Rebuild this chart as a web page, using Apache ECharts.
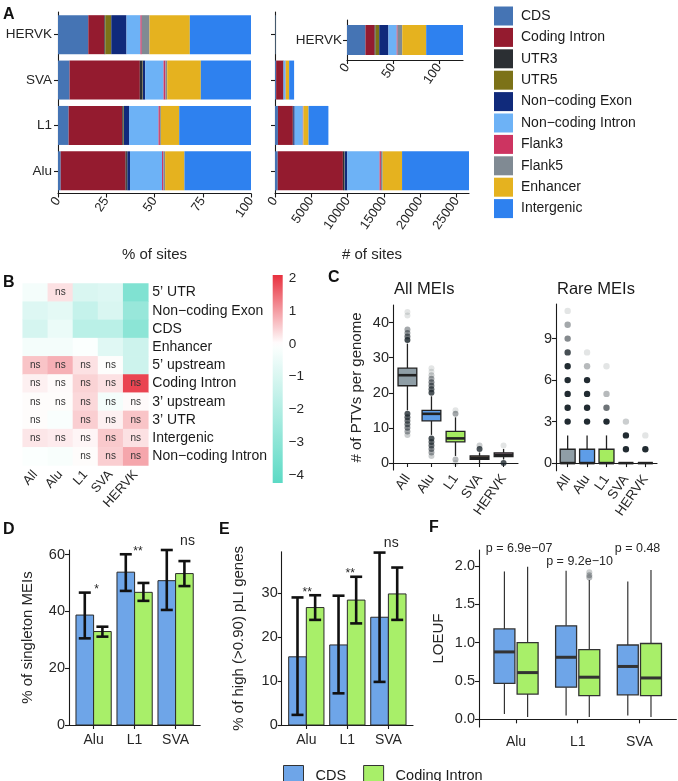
<!DOCTYPE html>
<html><head><meta charset="utf-8">
<script src="https://cdn.jsdelivr.net/npm/echarts@6/dist/echarts.min.js"></script>
<style>html,body{margin:0;padding:0;background:#fff}#c{width:678px;height:781px}</style>
</head><body><div id="c"></div>
<script>
// ================= DATA =================
// Panel A
const aCats = ['Alu', 'L1', 'SVA', 'HERVK'];
const regions = ['CDS', 'Coding Intron', 'UTR3', 'UTR5', 'Non\u2212coding Exon', 'Non\u2212coding Intron', 'Flank3', 'Flank5', 'Enhancer', 'Intergenic'];
const pctAlu   = [1.4, 33.6, 0.7, 0.2, 1.4, 16.6, 0.7, 0.9, 10.0, 34.5];
const pctL1    = [5.5, 27.8, 0.7, 0.2, 2.6, 15.3, 0.7, 0.5, 9.5, 37.2];
const pctSVA   = [6.0, 36.4, 1.4, 0.2, 1.2, 9.5, 1.0, 0.9, 17.4, 26.0];
const pctHERVK = [15.7, 8.3, 0.5, 3.1, 7.9, 7.2, 0.7, 4.0, 20.9, 31.7];
const cntAlu   = [374, 8971, 187, 53, 374, 4432, 187, 240, 2670, 9212];
const cntL1    = [404, 2043, 51, 15, 191, 1125, 51, 37, 698, 2735];
const cntSVA   = [158, 957, 37, 5, 32, 250, 26, 24, 458, 683];
const cntHERVK = [20, 10, 1, 4, 10, 9, 1, 5, 26, 40];
const pctTicks = [0, 25, 50, 75, 100];
const cntTicks = [0, 5000, 10000, 15000, 20000, 25000];
const insetTicks = [0, 50, 100];

// Panel B
const hmCols = ['All', 'Alu', 'L1', 'SVA', 'HERVK'];
const hmRows = ['5\u2019 UTR', 'Non\u2212coding Exon', 'CDS', 'Enhancer', '5\u2019 upstream', 'Coding Intron', '3\u2019 upstream', '3\u2019 UTR', 'Intergenic', 'Non\u2212coding Intron'];
const hmAll   = [-0.3, -0.9, -1.1, -0.3, 0.6, 0.15, 0.02, 0.02, 0.25, -0.1];
const hmAlu   = [0.3, -0.7, -0.5, -0.3, 0.8, 0.05, 0.02, -0.15, 0.2, -0.2];
const hmL1    = [-1.0, -1.5, -1.8, -0.1, 0.3, 0.45, 0.4, 0.5, 0.1, 0.02];
const hmSVA   = [-0.9, -1.0, -1.8, -0.8, 0.0, 0.3, -0.3, 0.15, 0.55, 0.5];
const hmHERVK = [-3.3, -2.7, -3.0, -1.3, -1.3, 1.9, 0.05, 0.6, 0.3, 0.9];
const nsAll   = [0, 0, 0, 0, 1, 1, 1, 1, 1, 0];
const nsAlu   = [1, 0, 0, 0, 1, 1, 1, 0, 1, 0];
const nsL1    = [0, 0, 0, 0, 1, 1, 1, 1, 1, 1];
const nsSVA   = [0, 0, 0, 0, 1, 1, 1, 1, 1, 1];
const nsHERVK = [0, 0, 0, 0, 0, 1, 1, 1, 1, 1];
const cbTicks = [2, 1, 0, -1, -2, -3, -4];

// Panel C  (box: [lowWhisker, Q1, median, Q3, highWhisker]; outliers: [category#, value, overlap count])
const cCats = ['All', 'Alu', 'L1', 'SVA', 'HERVK'];
const allMeiBox = [[15, 22, 25, 27, 34], [8, 12, 14, 15, 19], [2, 6, 7, 9, 13], [0, 1, 1.5, 2, 3], [1, 1.8, 2.3, 2.9, 4]];
const allMeiOut = [[1,35,14],[1,36,8],[1,37,5],[1,38,4],[1,42,1],[1,43,1],[1,14,12],[1,13,10],[1,12,8],[1,11,7],[1,10,6],[1,9,4],[1,8,2],
  [2,20,12],[2,21,9],[2,22,7],[2,23,6],[2,24,4],[2,25,2],[2,26,1],[2,27,1],[2,7,12],[2,6,9],[2,5,8],[2,4,6],[2,3,4],[2,2,2],
  [3,14,4],[3,15,1],[3,1,3],[3,0,1],[4,4,12],[4,5,2],[5,5,1],[5,0,12]];
const allMeiTicks = [0, 10, 20, 30, 40];
const rareMeiBox = [[0, 0, 0, 1, 2], [0, 0, 0, 1, 2], [0, 0, 0, 1, 2], [0, 0, 0, 0, 0], [0, 0, 0, 0, 0]];
const rareMeiOut = [[1,3,30],[1,4,30],[1,5,30],[1,6,30],[1,7,30],[1,8,13],[1,9,6],[1,10,4],[1,11,1],
  [2,3,30],[2,4,30],[2,5,30],[2,6,30],[2,7,3],[2,8,1],[3,3,30],[3,4,8],[3,5,3],[3,7,1],[4,1,30],[4,2,30],[4,3,2],[5,1,30],[5,2,1]];
const rareMeiTicks = [0, 3, 6, 9];

// Panels D, E, F
const grpCats = ['Alu', 'L1', 'SVA'];
const dCDS = [38.7, 53.8, 50.8], dCI = [32.9, 46.7, 53.3];
const dCDSlo = [30.5, 47.2, 40.5], dCDShi = [46.6, 60.1, 61.6];
const dCIlo = [31.1, 43.7, 48.9], dCIhi = [34.6, 50.0, 57.7];
const dSig = ['*', '**', 'ns'], dSigX = [1.07, 2.08, 3.29];
const dTicks = [0, 20, 40, 60];
const eCDS = [15.5, 18.2, 24.5], eCI = [26.7, 28.4, 29.8];
const eCDSlo = [2.3, 7.2, 9.8], eCDShi = [29.0, 29.4, 39.2];
const eCIlo = [23.9, 23.1, 23.9], eCIhi = [29.5, 33.7, 35.8];
const eSig = ['**', '**', 'ns'], eSigX = [1.02, 2.07, 3.07];
const eTicks = [0, 10, 20, 30];
const fCDS = [[0.07, 0.47, 0.88, 1.18, 1.93], [0.05, 0.42, 0.81, 1.22, 1.94], [0.05, 0.32, 0.69, 0.97, 1.80]];
const fCI  = [[0.03, 0.33, 0.61, 1.00, 1.99], [0.03, 0.31, 0.55, 0.91, 1.82], [0.03, 0.31, 0.54, 0.99, 1.95]];
const fCIout = [[2, 1.85, 3], [2, 1.88, 3], [2, 1.92, 2]];
const fP = ['p = 6.9e\u221207', 'p = 9.2e\u221210', 'p = 0.48'];
const fPX = [1.05, 2.03, 2.97], fPY = [2.23, 2.06, 2.23];
const fTicks = [0, 0.5, 1, 1.5, 2];

// ================= STYLE =================
const FONT = '"Liberation Sans", Arial, sans-serif';
const AX = '#1a1a1a', TXT = '#262626';
const regionColors = ['#4574b4', '#941b2f', '#2b2f33', '#7c7218', '#102a7b', '#6db2f6', '#cd3461', '#808a93', '#e5b21f', '#2e81ef'];
const cColors = ['#8f9ea6', '#5e9de8', '#a5ec60', '#c6a787', '#c89cb4'];
const CDS_C = '#6ea5e8', CI_C = '#a8ef69';

const aLine = { show: true, lineStyle: { color: AX, width: 1.1 } };
const aTick = (v) => ({ show: true, length: 4, lineStyle: { color: AX, width: 1.1 }, customValues: v });
const aTickCat = { show: true, length: 4, alignWithLabel: true, lineStyle: { color: AX, width: 1.1 } };
const lbl = (o) => Object.assign({ color: TXT, fontFamily: FONT, fontSize: 14, hideOverlap: false }, o);
const nameStyle = { color: TXT, fontFamily: FONT, fontSize: 15 };
const noSplit = { show: false };
const plainFmt = (v) => String(v);

// heatmap colour scale
const TEAL = [92, 218, 197], RED = [232, 48, 62], WHITE = [255, 255, 255];
function mix(a, b, t) { return 'rgb(' + a.map((x, i) => Math.round(x + (b[i] - x) * t)).join(',') + ')'; }
function hmColor(v) { return v >= 0 ? mix(WHITE, RED, Math.min(1, v / 2.1)) : mix(WHITE, TEAL, Math.min(1, -v / 4.25)); }
const HM_MIN = -4.25, HM_MAX = 2.1;
const hmPalette = [];
for (let k = 0; k < 60; k++) hmPalette.push(hmColor(HM_MIN + (HM_MAX - HM_MIN) * k / 59));

// ================= RENDERERS =================
function boxItem(fills, widthFrac, offFrac, st) {
  return function (params, api) {
    const x = api.value(0), unit = api.size([1, 0])[0];
    const cx = api.coord([x, 0])[0] + offFrac * unit, hw = widthFrac * unit / 2;
    const y = (k) => api.coord([x, api.value(k)])[1];
    const lo = y(1), q1 = y(2), md = y(3), q3 = y(4), hi = y(5);
    const fill = Array.isArray(fills) ? fills[params.dataIndex] : fills;
    return { type: 'group', children: [
      { type: 'line', shape: { x1: cx, y1: hi, x2: cx, y2: q3 }, style: { stroke: st.wc, lineWidth: st.ww } },
      { type: 'line', shape: { x1: cx, y1: q1, x2: cx, y2: lo }, style: { stroke: st.wc, lineWidth: st.ww } },
      { type: 'rect', shape: { x: cx - hw, y: q3, width: 2 * hw, height: q1 - q3 }, style: { fill: fill, stroke: st.bc, lineWidth: st.bw } },
      { type: 'line', shape: { x1: cx - hw, y1: md, x2: cx + hw, y2: md }, style: { stroke: st.bc, lineWidth: st.mw } }
    ] };
  };
}
function dotItem(offFrac, r) {
  return function (params, api) {
    const x = api.value(0), unit = api.size([1, 0])[0];
    const p = api.coord([x, api.value(1)]);
    const a = 1 - Math.pow(0.88, api.value(2));
    return { type: 'circle', shape: { cx: p[0] + offFrac * unit, cy: p[1], r: r }, style: { fill: 'rgba(28,38,44,' + a.toFixed(3) + ')' } };
  };
}
function barItem(fill, offFrac, wFrac) {
  return function (params, api) {
    const x = api.value(0), unit = api.size([1, 0])[0];
    const p0 = api.coord([x, 0]), p1 = api.coord([x, api.value(1)]);
    const w = wFrac * unit, cx = p0[0] + offFrac * unit;
    return { type: 'rect', shape: { x: cx - w / 2, y: p1[1], width: w, height: p0[1] - p1[1] }, style: { fill: fill, stroke: '#2a2a2a', lineWidth: 1 } };
  };
}
function errItem(offFrac, cap) {
  return function (params, api) {
    const x = api.value(0), unit = api.size([1, 0])[0];
    const lo = api.coord([x, api.value(1)]), hi = api.coord([x, api.value(2)]);
    const cx = lo[0] + offFrac * unit, st = { stroke: '#111', lineWidth: 2.6 };
    return { type: 'group', children: [
      { type: 'line', shape: { x1: cx, y1: lo[1], x2: cx, y2: hi[1] }, style: st },
      { type: 'line', shape: { x1: cx - cap / 2, y1: lo[1], x2: cx + cap / 2, y2: lo[1] }, style: st },
      { type: 'line', shape: { x1: cx - cap / 2, y1: hi[1], x2: cx + cap / 2, y2: hi[1] }, style: st }
    ] };
  };
}
function textItem(labels, lift, sizeFn) {
  return function (params, api) {
    const t = labels[params.dataIndex];
    const p = api.coord([api.value(0), api.value(1)]);
    return { type: 'text', x: p[0], y: p[1] - lift(t), style: { text: t, textAlign: 'center', textVerticalAlign: 'middle', fontSize: sizeFn(t), fontFamily: FONT, fill: TXT } };
  };
}
const sigLift = (t) => (t === 'ns' ? 9 : 3);
const sigSize = (t) => (t === 'ns' ? 14 : 12);

// ================= AXES =================
const grids = [
  { left: 58, top: 12, width: 193, height: 181.5 },      // 0 A left
  { left: 275, top: 12, width: 194, height: 181.5 },     // 1 A right
  { left: 347, top: 20, width: 116, height: 40 },        // 2 inset
  { left: 22.7, top: 283.5, width: 125.6, height: 182 }, // 3 B heatmap
  { left: 272.7, top: 275, width: 10, height: 208 },     // 4 colour bar
  { left: 393, top: 305, width: 125, height: 165 },      // 5 C all
  { left: 556, top: 304, width: 101, height: 166.7 },    // 6 C rare
  { left: 69, top: 550, width: 131.2, height: 175 },     // 7 D
  { left: 281.7, top: 551.7, width: 131.3, height: 173.3 }, // 8 E
  { left: 479, top: 550, width: 197.4, height: 177 }     // 9 F
].map(g => Object.assign({ containLabel: false, outerBoundsMode: 'none' }, g));

const idx = (arr) => arr.map((_, i) => i + 1);
const catFmt = (names) => (v) => names[Math.round(v) - 1] || '';

const xAxis = [
  { gridIndex: 0, type: 'value', min: 0, max: 100, axisLine: aLine, axisTick: aTick(pctTicks), splitLine: noSplit,
    axisLabel: lbl({ customValues: pctTicks, formatter: plainFmt, rotate: 55, fontSize: 13, margin: 5 }),
    name: '% of sites', nameLocation: 'middle', nameGap: 54, nameTextStyle: nameStyle },
  { gridIndex: 1, type: 'value', min: 0, max: 26700, axisLine: aLine, axisTick: aTick(cntTicks), splitLine: noSplit,
    axisLabel: lbl({ customValues: cntTicks, formatter: plainFmt, rotate: 55, fontSize: 13, margin: 5 }),
    name: '# of sites', nameLocation: 'middle', nameGap: 54, nameTextStyle: nameStyle },
  { gridIndex: 2, type: 'value', min: 0, max: 126, axisLine: aLine, axisTick: aTick(insetTicks), splitLine: noSplit,
    axisLabel: lbl({ customValues: insetTicks, formatter: plainFmt, rotate: 55, fontSize: 13, margin: 5 }) },
  { gridIndex: 3, type: 'category', data: hmCols, axisLine: { show: false }, axisTick: { show: false },
    axisLabel: lbl({ rotate: 48, fontSize: 13, margin: 7, interval: 0 }) },
  { gridIndex: 4, type: 'value', min: 0, max: 1, show: false },
  { gridIndex: 5, type: 'value', min: 0.4, max: 5.6, axisLine: aLine, axisTick: aTick(idx(cCats)), splitLine: noSplit,
    axisLabel: lbl({ customValues: idx(cCats), formatter: catFmt(cCats), rotate: 55, fontSize: 13.5, margin: 6 }) },
  { gridIndex: 6, type: 'value', min: 0.4, max: 5.6, axisLine: aLine, axisTick: aTick(idx(cCats)), splitLine: noSplit,
    axisLabel: lbl({ customValues: idx(cCats), formatter: catFmt(cCats), rotate: 55, fontSize: 13.5, margin: 6 }) },
  { gridIndex: 7, type: 'value', min: 0.4, max: 3.6, axisLine: aLine, axisTick: aTick(idx(grpCats)), splitLine: noSplit,
    axisLabel: lbl({ customValues: idx(grpCats), formatter: catFmt(grpCats), margin: 8 }) },
  { gridIndex: 8, type: 'value', min: 0.4, max: 3.6, axisLine: aLine, axisTick: aTick(idx(grpCats)), splitLine: noSplit,
    axisLabel: lbl({ customValues: idx(grpCats), formatter: catFmt(grpCats), margin: 8 }) },
  { gridIndex: 9, type: 'value', min: 0.4, max: 3.6, axisLine: aLine, axisTick: aTick(idx(grpCats)), splitLine: noSplit,
    axisLabel: lbl({ customValues: idx(grpCats), formatter: catFmt(grpCats), margin: 8 }) }
];
const minusFmt = (d) => (v) => (v < 0 ? '\u2212' + Math.abs(v).toFixed(d) : v.toFixed(d));
const yAxis = [
  { gridIndex: 0, type: 'category', data: aCats, axisLine: aLine, axisTick: aTickCat, axisLabel: lbl({ fontSize: 13.5, margin: 6 }) },
  { gridIndex: 1, type: 'category', data: aCats, axisLine: aLine, axisTick: aTickCat, axisLabel: { show: false } },
  { gridIndex: 2, type: 'category', data: ['HERVK'], axisLine: aLine, axisTick: aTickCat, axisLabel: lbl({ fontSize: 13.5, margin: 5 }) },
  { gridIndex: 3, type: 'category', data: hmRows, inverse: true, position: 'right', axisLine: { show: false }, axisTick: { show: false },
    axisLabel: lbl({ fontSize: 14, margin: 4, interval: 0, color: '#1a1a1a' }) },
  { gridIndex: 4, type: 'value', min: HM_MIN, max: HM_MAX, position: 'right', axisLine: { show: false }, axisTick: { show: false }, splitLine: noSplit,
    axisLabel: lbl({ customValues: cbTicks, formatter: minusFmt(0), fontSize: 13.5, margin: 6 }) },
  { gridIndex: 5, type: 'value', min: -2, max: 45, axisLine: aLine, axisTick: aTick(allMeiTicks), splitLine: noSplit,
    axisLabel: lbl({ customValues: allMeiTicks, formatter: plainFmt, fontSize: 14.5, margin: 4 }),
    name: '# of PTVs per genome', nameLocation: 'middle', nameGap: 29, nameTextStyle: nameStyle },
  { gridIndex: 6, type: 'value', min: -0.55, max: 11.5, axisLine: aLine, axisTick: aTick(rareMeiTicks), splitLine: noSplit,
    axisLabel: lbl({ customValues: rareMeiTicks, formatter: plainFmt, fontSize: 14.5, margin: 4 }) },
  { gridIndex: 7, type: 'value', min: 0, max: 61.6, axisLine: aLine, axisTick: aTick(dTicks), splitLine: noSplit,
    axisLabel: lbl({ customValues: dTicks, formatter: plainFmt, fontSize: 14.5, margin: 4 }),
    name: '% of singleton MEIs', nameLocation: 'middle', nameGap: 34, nameTextStyle: nameStyle },
  { gridIndex: 8, type: 'value', min: 0, max: 39.4, axisLine: aLine, axisTick: aTick(eTicks), splitLine: noSplit,
    axisLabel: lbl({ customValues: eTicks, formatter: plainFmt, fontSize: 14.5, margin: 4 }),
    name: '% of high (>0.90) pLI genes', nameLocation: 'middle', nameGap: 35, nameTextStyle: nameStyle },
  { gridIndex: 9, type: 'value', min: -0.1, max: 2.21, axisLine: aLine, axisTick: aTick(fTicks), splitLine: noSplit,
    axisLabel: lbl({ customValues: fTicks, formatter: (v) => v.toFixed(1), fontSize: 14.5, margin: 4 }),
    name: 'LOEUF', nameLocation: 'middle', nameGap: 33, nameTextStyle: nameStyle }
];

// ================= SERIES =================
const series = [];
const common = { animation: false, silent: true };
regions.forEach((r, i) => {
  series.push(Object.assign({ type: 'bar', name: r, xAxisIndex: 0, yAxisIndex: 0, stack: 'pct', barWidth: 39,
    data: [pctAlu[i], pctL1[i], pctSVA[i], pctHERVK[i]], itemStyle: { color: regionColors[i] } }, common));
});
regions.forEach((r, i) => {
  series.push(Object.assign({ type: 'bar', name: r, xAxisIndex: 1, yAxisIndex: 1, stack: 'cnt', barWidth: 39,
    data: [cntAlu[i], cntL1[i], cntSVA[i], cntHERVK[i]], itemStyle: { color: regionColors[i] } }, common));
});
regions.forEach((r, i) => {
  series.push(Object.assign({ type: 'bar', name: r, xAxisIndex: 2, yAxisIndex: 2, stack: 'ins', barWidth: 30,
    data: [cntHERVK[i]], itemStyle: { color: regionColors[i] } }, common));
});

// B heatmap
const hmVals = [hmAll, hmAlu, hmL1, hmSVA, hmHERVK];
const hmNs = [nsAll, nsAlu, nsL1, nsSVA, nsHERVK];
const hmData = [];
hmVals.forEach((col, c) => col.forEach((v, r) => hmData.push([c, r, v, hmNs[c][r]])));
const HM_IDX = series.length;
series.push(Object.assign({ type: 'heatmap', xAxisIndex: 3, yAxisIndex: 3, data: hmData,
  label: { show: true, formatter: (p) => (p.data[3] ? 'ns' : ''), fontSize: 10, color: '#333', fontFamily: FONT } }, common));

// colour bar
const cbStops = [];
for (let k = 0; k <= 40; k++) cbStops.push({ offset: k / 40, color: hmColor(HM_MAX - (HM_MAX - HM_MIN) * k / 40) });
series.push(Object.assign({ type: 'custom', xAxisIndex: 4, yAxisIndex: 4, clip: false, data: [[0, HM_MIN, 1, HM_MAX]],
  renderItem: (params, api) => {
    const p1 = api.coord([api.value(0), api.value(3)]), p2 = api.coord([api.value(2), api.value(1)]);
    return { type: 'rect', shape: { x: p1[0], y: p1[1], width: p2[0] - p1[0], height: p2[1] - p1[1] },
      style: { fill: new echarts.graphic.LinearGradient(0, 0, 0, 1, cbStops) } };
  } }, common));

// C boxplots
const cStyle = { wc: '#222', ww: 1.3, bc: '#222', bw: 1.3, mw: 2.6 };
series.push(Object.assign({ type: 'custom', xAxisIndex: 5, yAxisIndex: 5, clip: false,
  data: allMeiBox.map((b, i) => [i + 1].concat(b)), renderItem: boxItem(cColors, 0.78, 0, cStyle) }, common));
series.push(Object.assign({ type: 'custom', xAxisIndex: 5, yAxisIndex: 5, clip: false,
  data: allMeiOut, renderItem: dotItem(0, 3) }, common));
series.push(Object.assign({ type: 'custom', xAxisIndex: 6, yAxisIndex: 6, clip: false,
  data: rareMeiBox.map((b, i) => [i + 1].concat(b)), renderItem: boxItem(cColors, 0.77, 0, cStyle) }, common));
series.push(Object.assign({ type: 'custom', xAxisIndex: 6, yAxisIndex: 6, clip: false,
  data: rareMeiOut, renderItem: dotItem(0, 3.2) }, common));

// D & E bars with error bars
function barPanel(ax, cds, ci, cdsLo, cdsHi, ciLo, ciHi, sig, sigX) {
  series.push(Object.assign({ type: 'custom', name: 'CDS', xAxisIndex: ax, yAxisIndex: ax, clip: false,
    data: cds.map((v, i) => [i + 1, v]), renderItem: barItem(CDS_C, -0.215, 0.43), itemStyle: { color: CDS_C } }, common));
  series.push(Object.assign({ type: 'custom', name: 'Coding Intron', xAxisIndex: ax, yAxisIndex: ax, clip: false,
    data: ci.map((v, i) => [i + 1, v]), renderItem: barItem(CI_C, 0.215, 0.43), itemStyle: { color: CI_C } }, common));
  series.push(Object.assign({ type: 'custom', xAxisIndex: ax, yAxisIndex: ax, clip: false,
    data: cdsLo.map((v, i) => [i + 1, v, cdsHi[i]]), renderItem: errItem(-0.215, 12) }, common));
  series.push(Object.assign({ type: 'custom', xAxisIndex: ax, yAxisIndex: ax, clip: false,
    data: ciLo.map((v, i) => [i + 1, v, ciHi[i]]), renderItem: errItem(0.215, 12) }, common));
  series.push(Object.assign({ type: 'custom', xAxisIndex: ax, yAxisIndex: ax, clip: false,
    data: sigX.map((x, i) => [x, Math.max(cdsHi[i], ciHi[i])]), renderItem: textItem(sig, sigLift, sigSize) }, common));
}
barPanel(7, dCDS, dCI, dCDSlo, dCDShi, dCIlo, dCIhi, dSig, dSigX);
barPanel(8, eCDS, eCI, eCDSlo, eCDShi, eCIlo, eCIhi, eSig, eSigX);

// F boxplots
const fStyle = { wc: '#333', ww: 1.2, bc: '#333', bw: 1.3, mw: 3 };
series.push(Object.assign({ type: 'custom', name: 'CDS', xAxisIndex: 9, yAxisIndex: 9, clip: false,
  data: fCDS.map((b, i) => [i + 1].concat(b)), renderItem: boxItem(CDS_C, 0.34, -0.188, fStyle), itemStyle: { color: CDS_C } }, common));
series.push(Object.assign({ type: 'custom', name: 'Coding Intron', xAxisIndex: 9, yAxisIndex: 9, clip: false,
  data: fCI.map((b, i) => [i + 1].concat(b)), renderItem: boxItem(CI_C, 0.34, 0.188, fStyle), itemStyle: { color: CI_C } }, common));
series.push(Object.assign({ type: 'custom', xAxisIndex: 9, yAxisIndex: 9, clip: false,
  data: fCIout, renderItem: dotItem(0.188, 3) }, common));
series.push(Object.assign({ type: 'custom', xAxisIndex: 9, yAxisIndex: 9, clip: false,
  data: fPX.map((x, i) => [x, fPY[i]]), renderItem: textItem(fP, () => 0, () => 12.5) }, common));

// ================= GRAPHIC TEXT =================
const letter = (t, x, y) => ({ type: 'text', left: x, top: y, silent: true,
  style: { text: t, fontSize: 16, fontWeight: 'bold', fontFamily: FONT, fill: '#111' } });
const graphic = [
  letter('A', 3, 7), letter('B', 3, 275), letter('C', 328, 270),
  letter('D', 3, 522), letter('E', 219, 522), letter('F', 429, 520),
  { type: 'text', left: 394, top: 281, silent: true, style: { text: 'All MEIs', fontSize: 16.5, fontFamily: FONT, fill: '#1a1a1a' } },
  { type: 'text', left: 557, top: 281, silent: true, style: { text: 'Rare MEIs', fontSize: 16.5, fontFamily: FONT, fill: '#1a1a1a' } }
];

// ================= LEGENDS =================
const legend = [
  { data: regions.map((n, i) => ({ name: n, itemStyle: { color: regionColors[i], borderWidth: 0 } })),
    orient: 'vertical', left: 489, top: 1.5, itemWidth: 19, itemHeight: 19, itemGap: 2.4, icon: 'rect', selectedMode: false,
    textStyle: { fontSize: 14, color: '#1a1a1a', fontFamily: FONT, padding: [0, 0, 0, 3] } },
  { data: [{ name: 'CDS', itemStyle: { color: CDS_C, borderColor: '#333', borderWidth: 1 } },
           { name: 'Coding Intron', itemStyle: { color: CI_C, borderColor: '#333', borderWidth: 1 } }],
    orient: 'horizontal', left: 278, top: 760, itemWidth: 20, itemHeight: 20, itemGap: 17, icon: 'rect', selectedMode: false,
    textStyle: { fontSize: 14.5, color: '#1a1a1a', fontFamily: FONT, padding: [0, 0, 0, 7] } }
];

const chart = echarts.init(document.getElementById('c'), null, { renderer: 'canvas', width: 678, height: 781 });
chart.setOption({
  animation: false,
  textStyle: { fontFamily: FONT },
  grid: grids, xAxis: xAxis, yAxis: yAxis,
  visualMap: [{ type: 'continuous', show: false, min: HM_MIN, max: HM_MAX, dimension: 2, seriesIndex: HM_IDX, inRange: { color: hmPalette } }],
  legend: legend, graphic: graphic, series: series
});
</script>
</body></html>
